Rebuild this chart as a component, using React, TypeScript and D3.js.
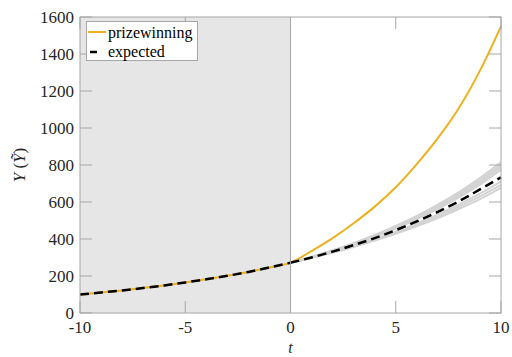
import * as d3 from "d3";

// time axis: historical part and forecast part
const pastT = [-10, -9, -8, -7, -6, -5, -4, -3, -2, -1, 0];
const futureT = [0, 1, 2, 3, 4, 5, 6, 7, 8, 9, 10];

const pastY = [100, 111, 122, 135, 149, 165, 182, 201, 222, 246, 272];
const prizewinning = [272, 335, 405, 485, 575, 680, 805, 945, 1108, 1310, 1550];
const expected = [272, 300, 332, 367, 405, 448, 495, 547, 604, 668, 733];

// simulated paths drawn in light gray
const paths = [
    [272, 304, 339, 378, 422, 471, 525, 586, 654, 730, 815],
    [272, 303, 337, 376, 419, 466, 519, 579, 645, 718, 803],
    [272, 302, 336, 374, 416, 462, 514, 571, 635, 706, 790],
    [272, 302, 335, 372, 412, 457, 508, 563, 625, 694, 775],
    [272, 299, 330, 363, 399, 440, 484, 533, 586, 645, 710],
    [272, 299, 328, 360, 395, 433, 476, 522, 574, 630, 693],
    [272, 298, 326, 357, 391, 428, 469, 513, 562, 615, 676],
];

const xTicks = [-10, -5, 0, 5, 10];
const yTicks = [0, 200, 400, 600, 800, 1000, 1200, 1400, 1600];

const W = 512;
const H = 357;
const ml = 80, mr = 11, mt = 17, mb = 44;
const axisColor = "#a6a6a6";
const textColor = "#262626";
const font = "'Liberation Serif', 'DejaVu Serif', serif";
const orange = "#EDB120";

export default function App() {
    const x = d3.scaleLinear().domain([-10, 10]).range([ml, W - mr]);
    const y = d3.scaleLinear().domain([0, 1600]).range([H - mb, mt]);
    const tickLen = 12;

    const line = d3.line<[number, number]>()
        .x(d => x(d[0]))
        .y(d => y(d[1]))
        .curve(d3.curveMonotoneX);

    const pastLine = line(pastT.map((t, i) => [t, pastY[i]]));
    const prizeLine = line([
        ...pastT.map((t, i) => [t, pastY[i]] as [number, number]),
        ...futureT.slice(1).map((t, i) => [t, prizewinning[i + 1]] as [number, number]),
    ]);
    const expLine = line(futureT.map((t, i) => [t, expected[i]]));

    const x0 = x.range()[0], x1 = x.range()[1];
    const y0 = y.range()[0], y1 = y.range()[1];

    return (
        <svg width={W} height={H} style={{ position: "absolute", left: 0, top: 0, background: "#fff", fontFamily: font }}>
            {/* shaded historical region */}
            <rect x={x(-10)} y={y1} width={x(0) - x(-10)} height={y0 - y1} fill="#e6e6e6" />

            {/* simulated paths */}
            {paths.map((p, k) => (
                <path key={k} d={line(futureT.map((t, i) => [t, p[i]])) || ""}
                    fill="none" stroke="#d3d3d3" strokeWidth={2} />
            ))}

            <path d={prizeLine || ""} fill="none" stroke={orange} strokeWidth={2} />
            <path d={pastLine || ""} fill="none" stroke="#000" strokeWidth={2.5} strokeDasharray="9,5" />
            <path d={expLine || ""} fill="none" stroke="#000" strokeWidth={2.5} strokeDasharray="9,5" />

            {/* vertical line at t=0 */}
            <line x1={x(0)} x2={x(0)} y1={y1} y2={y0} stroke={axisColor} strokeWidth={1} />

            {/* box */}
            <rect x={x0} y={y1} width={x1 - x0} height={y0 - y1} fill="none" stroke={axisColor} strokeWidth={1} />

            {/* ticks */}
            {xTicks.map(t => (
                <g key={"xt" + t}>
                    <line x1={x(t)} x2={x(t)} y1={y0} y2={y0 - tickLen} stroke={axisColor} />
                    <line x1={x(t)} x2={x(t)} y1={y1} y2={y1 + tickLen} stroke={axisColor} />
                    <text x={x(t)} y={y0 + 20} textAnchor="middle" fontSize={17} fill={textColor}>{t}</text>
                </g>
            ))}
            {yTicks.map(t => (
                <g key={"yt" + t}>
                    <line x1={x0} x2={x0 + tickLen} y1={y(t)} y2={y(t)} stroke={axisColor} />
                    <line x1={x1} x2={x1 - tickLen} y1={y(t)} y2={y(t)} stroke={axisColor} />
                    <text x={x0 - 6} y={y(t) + 5.5} textAnchor="end" fontSize={17} fill={textColor}>{t}</text>
                </g>
            ))}

            {/* axis labels */}
            <text x={x(0)} y={y0 + 40} textAnchor="middle" fontSize={16} fontStyle="italic" fill={textColor}>t</text>
            <text transform={`translate(25,${(y0 + y1) / 2}) rotate(-90)`} textAnchor="middle" fontSize={17} fill={textColor}>
                <tspan fontStyle="italic">Y</tspan>
                <tspan> (</tspan>
                <tspan fontStyle="italic">Ỹ</tspan>
                <tspan>)</tspan>
            </text>

            {/* legend */}
            <g>
                <rect x={86.5} y={21.5} width={111} height={39} fill="#fff" stroke={axisColor} />
                <line x1={88} x2={106} y1={32} y2={32} stroke={orange} strokeWidth={2} />
                <line x1={90} x2={97} y1={52} y2={52} stroke="#000" strokeWidth={2.5} />
                <text x={108} y={37.5} fontSize={16} fill="#000">prizewinning</text>
                <text x={108} y={57} fontSize={16} fill="#000">expected</text>
            </g>
        </svg>
    );
}
